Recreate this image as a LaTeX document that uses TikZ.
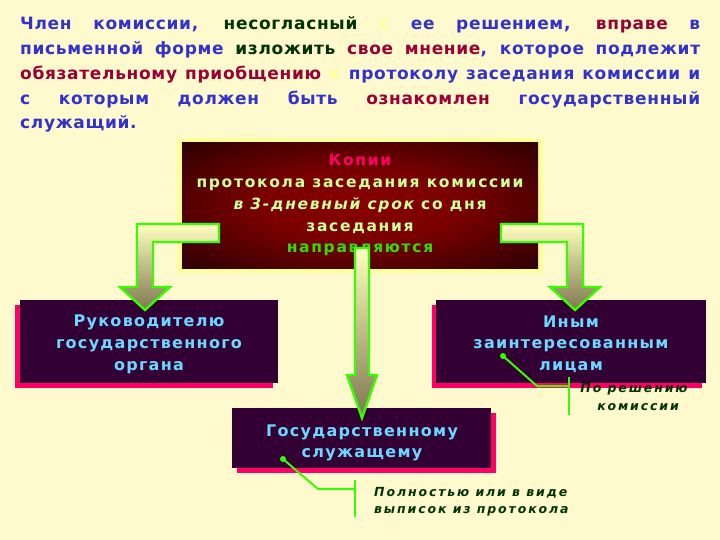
\documentclass[tikz,border=0pt]{standalone}
\usepackage{fontspec}
\setmainfont{DejaVu Sans}
\newfontfamily\topfont[LetterSpace=4]{DejaVu Sans}
\newfontfamily\kopfont[LetterSpace=11]{DejaVu Sans}
\newfontfamily\boxfont[LetterSpace=8]{DejaVu Sans}
\newfontfamily\callfont[LetterSpace=15]{DejaVu Sans}
\usetikzlibrary{shadows}
\definecolor{bg}{HTML}{FFFACD}
\definecolor{frame}{HTML}{FFFF99}
\definecolor{tblue}{HTML}{3333CC}
\definecolor{tgreen}{HTML}{003300}
\definecolor{tred}{HTML}{990033}
\definecolor{tpale}{HTML}{FFFF99}
\definecolor{boxc}{HTML}{330033}
\definecolor{pinkc}{HTML}{FF0066}
\definecolor{cyanc}{HTML}{6DD8FF}
\definecolor{lgreen}{HTML}{CCFF99}
\definecolor{bgreen}{HTML}{33DD00}
\definecolor{arrgreen}{HTML}{33FF00}
\definecolor{arrlight}{HTML}{FFFFC0}
\definecolor{arrdark}{HTML}{807650}
\definecolor{redin}{HTML}{880000}
\definecolor{redmid}{HTML}{7A0000}
\definecolor{rededge}{HTML}{560000}
\definecolor{redout}{HTML}{300000}
\pgfdeclareradialshading{redglow}{\pgfpoint{0bp}{0bp}}{color(0bp)=(redin); color(14bp)=(redmid); color(24bp)=(rededge); color(35bp)=(redout); color(50bp)=(redout)}
\newcommand\cB{\color{tblue}}
\newcommand\cG{\color{tgreen}}
\newcommand\cR{\color{tred}}
\newcommand\cY{\color{tpale}}
\begin{document}
\begin{tikzpicture}[x=1pt,y=-1pt,
  topline/.style={anchor=base west,inner sep=0pt,font=\topfont\bfseries\fontsize{17}{25}\selectfont},
  mainbox/.style={minimum width=356pt,minimum height=125pt,inner sep=0pt,shading=redglow},
  ktext/.style={anchor=base,inner sep=0pt,font=\kopfont\bfseries\fontsize{15.5}{21}\selectfont,text=lgreen},
  darkbox/.style={fill=boxc,inner sep=0pt},
  btext/.style={anchor=base,inner sep=0pt,font=\boxfont\bfseries\fontsize{16}{22}\selectfont,text=cyanc},
  arrowshape/.style={draw=arrgreen,line width=2.4pt,line join=miter,top color=arrlight,bottom color=arrdark},
  callline/.style={draw=arrgreen,line width=2pt},
  ctext/.style={inner sep=0pt,font=\callfont\bfseries\itshape\fontsize{12.5}{17}\selectfont,text=tgreen}]
\fill[bg] (0,0) rectangle (720,540);
\useasboundingbox (0,0) rectangle (720,540);
% top paragraph
\node[topline] (t1) at (20,30) {\makebox[680pt][s]{\cB Член комиссии, \cG несогласный \cY с \cB ее решением, \cR вправе \cB в}};
\node[topline] (t2) at (20,55) {\makebox[680pt][s]{\cB письменной форме \cG изложить \cR свое мнение\cB, которое подлежит}};
\node[topline] (t3) at (20,80) {\makebox[680pt][s]{\cR обязательному приобщению \cY к \cB протоколу заседания комиссии и}};
\node[topline] (t4) at (20,105) {\makebox[680pt][s]{\cB с которым должен быть \cR ознакомлен \cB государственный}};
\node[topline] (t5) at (20,129) {\cB служащий.};
% main box
\node[fill=frame,minimum width=366pt,minimum height=135pt,inner sep=0pt] (frm) at (360,205.5) {};
\node[mainbox] (kop) at (360,205.5) {};
\node[ktext,text=pinkc] (k1) at (360,166) {Копии};
\node[ktext] (k2) at (360,188) {протокола заседания комиссии};
\node[ktext] (k3) at (360,209.5) {\itshape в 3-дневный срок\upshape{} со дня};
\node[ktext] (k4) at (360,231) {заседания};
\node[ktext,text=bgreen] (k5) at (360,252) {направляются};
% target boxes
\node[darkbox,minimum width=258pt,minimum height=83pt,drop shadow={fill=pinkc,opacity=1,shadow xshift=-5pt,shadow yshift=-5pt}] (ruk) at (149,341.5) {};
\node[btext] (r1) at (149,326) {Руководителю};
\node[btext] (r2) at (149,348) {государственного};
\node[btext] (r3) at (149,370) {органа};
\node[darkbox,minimum width=270pt,minimum height=83pt,drop shadow={fill=pinkc,opacity=1,shadow xshift=-4pt,shadow yshift=-5pt}] (iny) at (571,341.5) {};
\node[btext] (i1) at (571,327) {Иным};
\node[btext] (i2) at (571,348) {заинтересованным};
\node[btext] (i3) at (571,370) {лицам};
\node[darkbox,minimum width=259pt,minimum height=60pt,drop shadow={fill=pinkc,opacity=1,shadow xshift=5pt,shadow yshift=-5pt}] (gos) at (361.5,438) {};
\node[btext] (g1) at (362,436) {Государственному};
\node[btext] (g2) at (362,457) {служащему};
% arrows
\path[arrowshape] (219,224) -- (137,224) -- (137,287) -- (120,287) -- (145,310) -- (170,287) -- (153,287) -- (153,242) -- (219,242) -- cycle;
\path[arrowshape] (501,224) -- (583,224) -- (583,287) -- (600,287) -- (575,310) -- (550,287) -- (567,287) -- (567,242) -- (501,242) -- cycle;
\path[arrowshape] (355,248) -- (369,248) -- (369,375) -- (377,375) -- (362,418) -- (347,375) -- (355,375) -- cycle;
% callouts
\coordinate (d1) at (503,356);
\coordinate (e1) at (537,386);
\coordinate (f1) at (569,386);
\coordinate (b1t) at (569,377);
\coordinate (b1b) at (569,415);
\fill[arrgreen] (d1) circle (3);
\draw[callline] (d1) -- (e1) -- (f1);
\draw[callline] (b1t) -- (b1b);
\node[ctext,anchor=base] (c1) at (634,392) {По решению};
\node[ctext,anchor=base] (c2) at (638,410) {комиссии};
\coordinate (d2) at (283,459);
\coordinate (e2) at (318,489);
\coordinate (f2) at (355,489);
\coordinate (b2t) at (355,480);
\coordinate (b2b) at (355,517);
\fill[arrgreen] (d2) circle (3);
\draw[callline] (d2) -- (e2) -- (f2);
\draw[callline] (b2t) -- (b2b);
\node[ctext,anchor=base west] (c3) at (374,496) {Полностью или в виде};
\node[ctext,anchor=base west] (c4) at (374,513) {выписок из протокола};
\end{tikzpicture}
\end{document}
